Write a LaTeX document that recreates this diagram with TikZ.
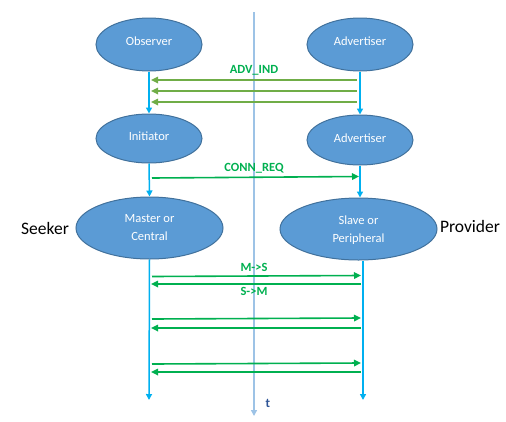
\documentclass[tikz,border=0pt]{standalone}
\usepackage{fontspec}
\setmainfont{Carlito}
\usetikzlibrary{shapes.geometric,arrows.meta}
\definecolor{ellfill}{HTML}{5B9BD5}
\definecolor{elldraw}{HTML}{41719C}
\definecolor{lifeblue}{HTML}{00B0F0}
\definecolor{axisblue}{HTML}{9DC3E6}
\definecolor{advgreen}{HTML}{70AD47}
\definecolor{msggreen}{HTML}{00B050}
\definecolor{tblue}{HTML}{2F5597}
\tikzset{
  ell/.style={ellipse, draw=elldraw, line width=1pt, fill=ellfill, inner sep=0pt},
  lab/.style={text=white, font=\fontsize{12.5}{18}\selectfont, align=center},
  life/.style={draw=lifeblue, line width=1.5pt, -{Triangle[length=6pt,width=6pt]}},
  advarrow/.style={draw=advgreen, line width=1.6pt, -{Triangle[length=7pt,width=6.5pt]}},
  msgarrow/.style={draw=msggreen, line width=1.6pt, -{Triangle[length=7pt,width=6.5pt]}},
  msglab/.style={text=msggreen, font=\fontsize{12.5}{15}\selectfont\bfseries},
  side/.style={font=\fontsize{17.5}{20}\selectfont, text=black}
}
\begin{document}
\begin{tikzpicture}[x=1pt,y=-1pt]
\useasboundingbox (0,0) rectangle (506,421);
% time axis
\coordinate (ttop) at (254,12);
\coordinate (tbot) at (254,416);
\draw[draw=axisblue, line width=1.3pt, -{Triangle[length=6pt,width=6pt]}] (ttop) -- (tbot);
\node[text=tblue, font=\fontsize{13}{15}\selectfont\bfseries] (tlab) at (268,403) {t};

% ellipses
\node[ell, minimum width=106pt, minimum height=53pt, label={[lab, yshift=3.5pt]center:Observer}] (obs) at (149,44.5) {};
\node[ell, minimum width=106pt, minimum height=53pt, label={[lab, yshift=3.5pt]center:Advertiser}] (adv1) at (360,44.5) {};
\node[ell, minimum width=106pt, minimum height=49pt, label={[lab, yshift=2pt]center:Initiator}] (ini) at (149,138.5) {};
\node[ell, minimum width=106pt, minimum height=50pt, label={[lab, yshift=2pt]center:Advertiser}] (adv2) at (360,140) {};
\node[ell, minimum width=147pt, minimum height=62pt, label={[lab]center:Master or\\Central}] (mas) at (149.5,228) {};
\node[ell, minimum width=157pt, minimum height=62pt, label={[lab, yshift=-1pt]center:Slave or\\Peripheral}] (sla) at (358.5,229) {};

\node[side] (seeker) at (45,228) {Seeker};
\node[side] (provider) at (470,226) {Provider};

% lifelines
\draw[life] (obs.south) -- (ini.north);
\draw[life] (adv1.south) -- (adv2.north);
\draw[life] (ini.south) -- (mas.north);
\draw[life] (adv2.south) -- (sla.north -| adv2.south);
\coordinate (lend) at (149,400);
\coordinate (rend) at (363,400);
\draw[life] (mas.south) -- (lend);
\draw[life] (sla.south -| rend) -- (rend);

% ADV_IND
\coordinate (r1) at (357,80);  \coordinate (l1) at (151,80);
\coordinate (r2) at (357,91);  \coordinate (l2) at (151,91);
\coordinate (r3) at (357,102); \coordinate (l3) at (151,102);
\draw[advarrow] (r1) -- (l1);
\draw[advarrow] (r2) -- (l2);
\draw[advarrow] (r3) -- (l3);
\node[msglab] (advind) at (254,70) {ADV\_IND};

% CONN_REQ
\coordinate (cs) at (152,178); \coordinate (ce) at (359,176.5);
\draw[msgarrow] (cs) -- (ce);
\node[msglab] (connreq) at (254,168) {CONN\_REQ};

% data exchange
\coordinate (m1s) at (152,276.5); \coordinate (m1e) at (361,275.5);
\coordinate (s1s) at (361,284);   \coordinate (s1e) at (151,284);
\coordinate (m2s) at (152,319);   \coordinate (m2e) at (361,318);
\coordinate (s2s) at (361,328);   \coordinate (s2e) at (151,328);
\coordinate (m3s) at (152,364);   \coordinate (m3e) at (361,363);
\coordinate (s3s) at (361,372);   \coordinate (s3e) at (151,372);
\draw[msgarrow] (m1s) -- (m1e);
\draw[msgarrow] (s1s) -- (s1e);
\draw[msgarrow] (m2s) -- (m2e);
\draw[msgarrow] (s2s) -- (s2e);
\draw[msgarrow] (m3s) -- (m3e);
\draw[msgarrow] (s3s) -- (s3e);
\node[msglab] (ms) at (254,267) {M->S};
\node[msglab] (sm) at (254,291) {S->M};
\end{tikzpicture}
\end{document}
